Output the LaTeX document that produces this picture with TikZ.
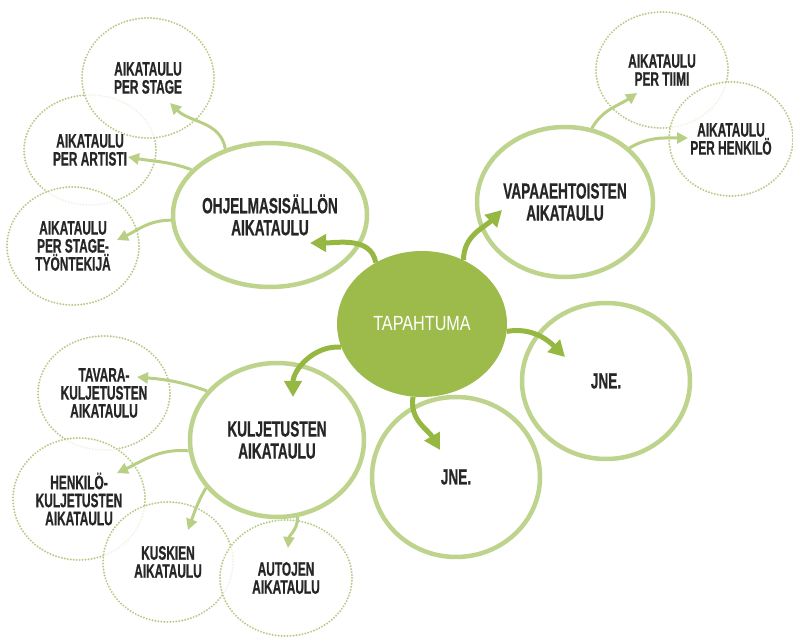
\documentclass[tikz,border=0pt]{standalone}
\usepackage{fontspec}
\newfontfamily\ringfont{Liberation Sans}[FakeStretch=0.62, BoldFeatures={FakeBold=0.6}]
\newfontfamily\leaffont{Liberation Sans}[FakeStretch=0.61, BoldFeatures={FakeBold=0.6}]
\newfontfamily\hubfont{Liberation Sans}[FakeStretch=0.79]
\usetikzlibrary{positioning, shapes.geometric, arrows.meta, calc}

\definecolor{hubgreen}{RGB}{157,187,74}
\definecolor{ringgreen}{RGB}{190,211,140}
\definecolor{leafgreen}{RGB}{184,203,135}
\definecolor{trunkgreen}{RGB}{150,184,66}
\definecolor{twiggreen}{RGB}{186,207,134}
\definecolor{labelgray}{RGB}{38,38,38}

\begin{document}
\begin{tikzpicture}[
        x=1pt, y=1pt,
        hub/.style={ellipse, fill=hubgreen, minimum width=170pt, minimum height=146pt,
          text=white, font=\hubfont\fontsize{20.5}{21}\selectfont},
        ring/.style={ellipse, draw=ringgreen, line width=4.5pt, fill=white, inner sep=0pt,
          minimum width=174pt, minimum height=154pt, align=center, text=labelgray,
          font=\ringfont\bfseries\fontsize{22}{22}\selectfont},
        leaf/.style={ellipse, draw=leafgreen, line width=2.2pt, dash pattern=on 0pt off 3pt,
          line cap=round, fill=white, fill opacity=0.8, text opacity=1, inner sep=0pt,
          minimum width=132pt, minimum height=116pt, align=center, text=labelgray,
          font=\leaffont\bfseries\fontsize{19.5}{18}\selectfont},
        trunk/.style={draw=trunkgreen, line width=5pt, -{Triangle[length=16pt,width=17pt]}},
        twig/.style={draw=twiggreen, line width=3pt, -{Triangle[length=11pt,width=11pt]}}
      ]
      \useasboundingbox (0,0) rectangle (793,637);
      % dotted circles
      \node[leaf, minimum height=110pt] (artisti) at (90,487) {AIKATAULU\\PER ARTISTI};
      \node[leaf, minimum height=120pt] (stage) at (148,559) {AIKATAULU\\PER STAGE};
      \node[leaf, minimum height=118pt] (tyo) at (73,391) {AIKATAULU\\PER STAGE-\\TYÖNTEKIJÄ};
      \node[leaf] (tiimi) at (662,567) {AIKATAULU\\PER TIIMI};
      \node[leaf, minimum width=124pt, minimum height=114pt] (henk) at (731,498) {AIKATAULU\\PER HENKILÖ};
      \node[leaf, minimum height=114pt] (tavara) at (104,244) {TAVARA-\\KULJETUSTEN\\AIKATAULU};
      \node[leaf, minimum height=122pt] (hkul) at (79,138) {HENKILÖ-\\KULJETUSTEN\\AIKATAULU};
      \node[leaf, minimum width=130pt, minimum height=120pt] (kuskien) at (168,75) {KUSKIEN\\AIKATAULU};
      \node[leaf] (autojen) at (286,59) {AUTOJEN\\AIKATAULU};
      % main circles
      \node[hub] (tap) at (422,313) {TAPAHTUMA};
      \node[ring, minimum width=194pt, minimum height=144pt] (ohj) at (270,422) {OHJELMASISÄLLÖN\\AIKATAULU};
      \node[ring, minimum width=176pt, minimum height=150pt] (vap) at (565,435) {VAPAAEHTOISTEN\\AIKATAULU};
      \node[ring] (kul) at (277,197) {KULJETUSTEN\\AIKATAULU};
      \node[ring, minimum width=168pt, minimum height=156pt] (jneA) at (606,256) {JNE.};
      \node[ring, minimum width=168pt, minimum height=160pt] (jneB) at (456,160) {JNE.};
      % from the hub
      \draw[trunk] (tap.127) to[out=100,in=0] ($(ohj.center)+(40,-28)$);
      \draw[trunk] (tap.57) to[out=90,in=225] ($(vap.center)+(-63,-8)$);
      \draw[trunk] (tap.196) to[out=175,in=90] ($(kul.center)+(16,43)$);
      \draw[trunk] (tap.355) to[out=10,in=135] ($(jneA.center)+(-41,24)$);
      \draw[trunk] (tap.263) to[out=-100,in=120] ($(jneB.center)+(-16,27)$);
      % from the rings
      \draw[twig] (ohj.124) to[out=100,in=-45] ($(stage.center)+(22,-25)$);
      \draw[twig] (ohj.150) to[out=160,in=-10] ($(artisti.center)+(38,-7)$);
      \draw[twig] (ohj.183) to[out=180,in=25] ($(tyo.center)+(44,6)$);
      \draw[twig] (vap.70) to[out=60,in=215] ($(tiimi.center)+(-25,-23)$);
      \draw[twig] (vap.40) to[out=30,in=180] ($(henk.center)+(-43,1)$);
      \draw[twig] (kul.145) to[out=160,in=-5] ($(tavara.center)+(33,16)$);
      \draw[twig] (kul.187) to[out=175,in=25] ($(hkul.center)+(38,26)$);
      \draw[twig] (kul.214) to[out=240,in=70] ($(kuskien.center)+(20,32)$);
      \draw[twig] (kul.285) to[out=270,in=85] ($(autojen.center)+(2,30)$);
    \end{tikzpicture}
\end{document}
